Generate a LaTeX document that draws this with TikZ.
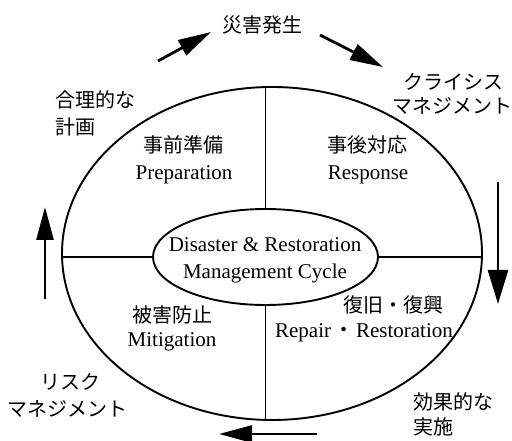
\documentclass[tikz,border=0pt]{standalone}
\usepackage{fontspec}
\setmainfont{Liberation Serif}
\newfontfamily\jp{Noto Sans CJK JP}
\usetikzlibrary{shapes.geometric,arrows.meta}
\tikzset{
  jtext/.style={inner sep=0pt, font=\jp\fontsize{20}{24}\selectfont},
  etext/.style={inner sep=0pt, font=\fontsize{21}{25}\selectfont},
  ring/.style={draw, line width=1.9pt, ellipse, inner sep=0pt},
  divider/.style={draw, line width=1.7pt},
  flow/.style={line width=2.8pt, -{Triangle[length=33pt,width=17pt]}},
}
\begin{document}
\begin{tikzpicture}[x=1pt,y=-1pt]
\useasboundingbox (0,0) rectangle (512,441);
% ellipses
\node[ring, minimum width=420pt, minimum height=333pt] (outer) at (272,253.5) {};
\node[ring, minimum width=225pt, minimum height=96pt] (inner) at (265.5,257) {};
% dividers
\draw[divider] (inner.north) -- (inner.north |- outer.north);
\draw[divider] (inner.south) -- (inner.south |- outer.south);
\draw[divider] (inner.west) -- (outer.west |- inner.west);
\draw[divider] (inner.east) -- (outer.east |- inner.east);
% centre text
\node[etext] (c1) at (265,245) {Disaster \& Restoration};
\node[etext] (c2) at (265,273) {Management Cycle};
% quadrant texts
\node[jtext] (p1) at (183,145) {事前準備};
\node[etext] (p2) at (184,175) {Preparation};
\node[jtext] (r1) at (367,145) {事後対応};
\node[etext] (r2) at (368,175) {Response};
\node[jtext] (m1) at (172,315) {被害防止};
\node[etext] (m2) at (172,342) {Mitigation};
\node[jtext] (f1) at (393,305) {復旧・復興};
\node[etext] (f2) at (364,333) {Repair\hspace{2pt}{\jp ・}\hspace{2pt}Restoration};
% outside texts
\node[jtext] (t1) at (262,25) {災害発生};
\node[jtext] (k1) at (453,82) {クライシス};
\node[jtext] (k2) at (452,106) {マネジメント};
\node[jtext, anchor=west] (g1) at (55,100) {合理的な};
\node[jtext, anchor=west] (g2) at (55,127) {計画};
\node[jtext] (s1) at (70,382) {リスク};
\node[jtext] (s2) at (68,409) {マネジメント};
\node[jtext, anchor=west] (e1) at (413,402) {効果的な};
\node[jtext, anchor=west] (e2) at (413,427) {実施};
% cycle arrows
\coordinate (a1s) at (158,61);
\coordinate (a1e) at (211,32);
\coordinate (a2s) at (320,35);
\coordinate (a2e) at (383,67);
\coordinate (a3s) at (498,182);
\coordinate (a3e) at (498,304);
\coordinate (a4s) at (317,434);
\coordinate (a4e) at (219,434);
\coordinate (a5s) at (45,299);
\coordinate (a5e) at (45,207);
\draw[flow] (a1s) -- (a1e);
\draw[flow] (a2s) -- (a2e);
\draw[flow, -{Triangle[length=34pt,width=20pt]}] (a3s) -- (a3e);
\draw[flow] (a4s) -- (a4e);
\draw[flow] (a5s) -- (a5e);
\end{tikzpicture}
\end{document}
